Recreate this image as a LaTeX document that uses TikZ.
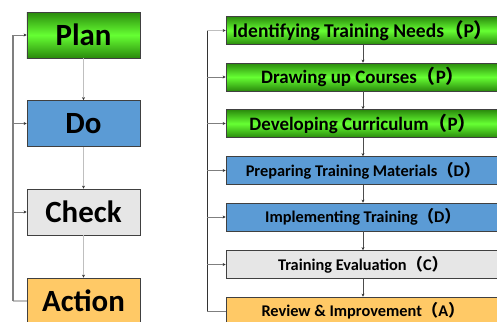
\documentclass[tikz,border=0pt]{standalone}
\usepackage{fontspec}
\setmainfont{Carlito}
\newfontfamily\cjkfont{Noto Sans CJK JP}
\newcommand\pp[1]{{\cjkfont （}#1{\cjkfont ）}\hspace{-0.45em}}
\usetikzlibrary{arrows.meta}
\definecolor{gDark}{HTML}{2A8A0C}
\definecolor{gLight}{HTML}{66FF33}
\definecolor{bFill}{HTML}{5B9BD5}
\definecolor{gyFill}{HTML}{E6E6E6}
\definecolor{oFill}{HTML}{FFC966}
\definecolor{lineA}{HTML}{BFBFBF}
\definecolor{lineB}{HTML}{7F7F7F}
\tikzset{
  box/.style={draw=black!75, line width=0.8pt, inner sep=0pt, anchor=center, font=\bfseries},
  bigbox/.style={box, minimum width=113bp, minimum height=46bp, font=\bfseries\fontsize{31}{34}\selectfont},
  smallbox/.style={box, minimum width=274bp, minimum height=28bp},
  green/.style={top color=gDark, bottom color=gDark, middle color=gLight},
  blue/.style={fill=bFill},
  grey/.style={fill=gyFill},
  orange/.style={fill=oFill},
  gtextA/.style={font=\bfseries\fontsize{19.6}{22}\selectfont},
  gtext/.style={font=\bfseries\fontsize{19}{22}\selectfont},
  otext/.style={font=\bfseries\fontsize{16.4}{19}\selectfont},
  down/.style={draw=lineA, line width=1pt, -{Stealth[length=3pt,width=3pt,black!80]}},
  downR/.style={draw=black!70, line width=0.6pt, -{Stealth[length=3pt,width=3pt,black!80]}},
  fb/.style={draw=lineB, line width=1.2pt},
  fbarrow/.style={draw=lineB, line width=1pt, -{Stealth[length=3pt,width=3pt,black!80]}},
}
\begin{document}
\begin{tikzpicture}[x=1bp,y=-1bp]
\useasboundingbox (0,0) rectangle (497,321);
\begin{scope}
\clip (0,0) rectangle (497,321);
% left column
\node[bigbox,green] (plan) at (83.5,35) {Plan};
\node[bigbox,blue] (do) at (83.5,123.5) {Do};
\node[bigbox,grey] (check) at (83.5,212) {Check};
\node[bigbox,orange] (action) at (83.5,301) {Action};
\draw[down] (plan.south) -- (do.north);
\draw[down] (do.south) -- (check.north);
\draw[down] (check.south) -- (action.north);
\coordinate (L) at (13,0);
\draw[draw=lineA,line width=1.2pt] (action.west) -- (action.west -| L);
\draw[fb] (action.west -| L) -- (plan.west -| L);
\draw[fbarrow] (plan.west -| L) -- (plan.west);
\draw[fbarrow] (do.west -| L) -- (do.west);
\draw[fbarrow] (check.west -| L) -- (check.west);
% right column
\node[smallbox,green,gtextA] (r1) at (363,30.5) {Identifying Training Needs\pp{P}};
\node[smallbox,green,gtext] (r2) at (363,77) {Drawing up Courses\pp{P}};
\node[smallbox,green,gtext] (r3) at (363,123.5) {Developing Curriculum\pp{P}};
\node[smallbox,blue,otext] (r4) at (363,170.5) {Preparing Training Materials\pp{D}};
\node[smallbox,blue,otext] (r5) at (363,217) {Implementing Training\pp{D}};
\node[smallbox,grey,otext] (r6) at (363,264.5) {Training Evaluation\pp{C}};
\node[smallbox,orange,otext] (r7) at (363,311) {Review \& Improvement\pp{A}};
\foreach \a/\b in {r1/r2,r2/r3,r3/r4,r4/r5,r5/r6,r6/r7}
  \draw[downR] (\a.south) -- (\b.north);
\coordinate (R) at (207,0);
\draw[draw=lineB,line width=1pt] (r7.west) -- (r7.west -| R);
\draw[draw=black!80,line width=0.8pt] (r7.west -| R) -- (r1.west -| R);
\draw[fbarrow,draw=lineA] (r1.west -| R) -- (r1.west);
\foreach \n in {r2,r3,r4,r5,r6}
  \draw[fbarrow,draw=lineB,line width=0.8pt] (\n.west -| R) -- (\n.west);
\end{scope}
\end{tikzpicture}
\end{document}
